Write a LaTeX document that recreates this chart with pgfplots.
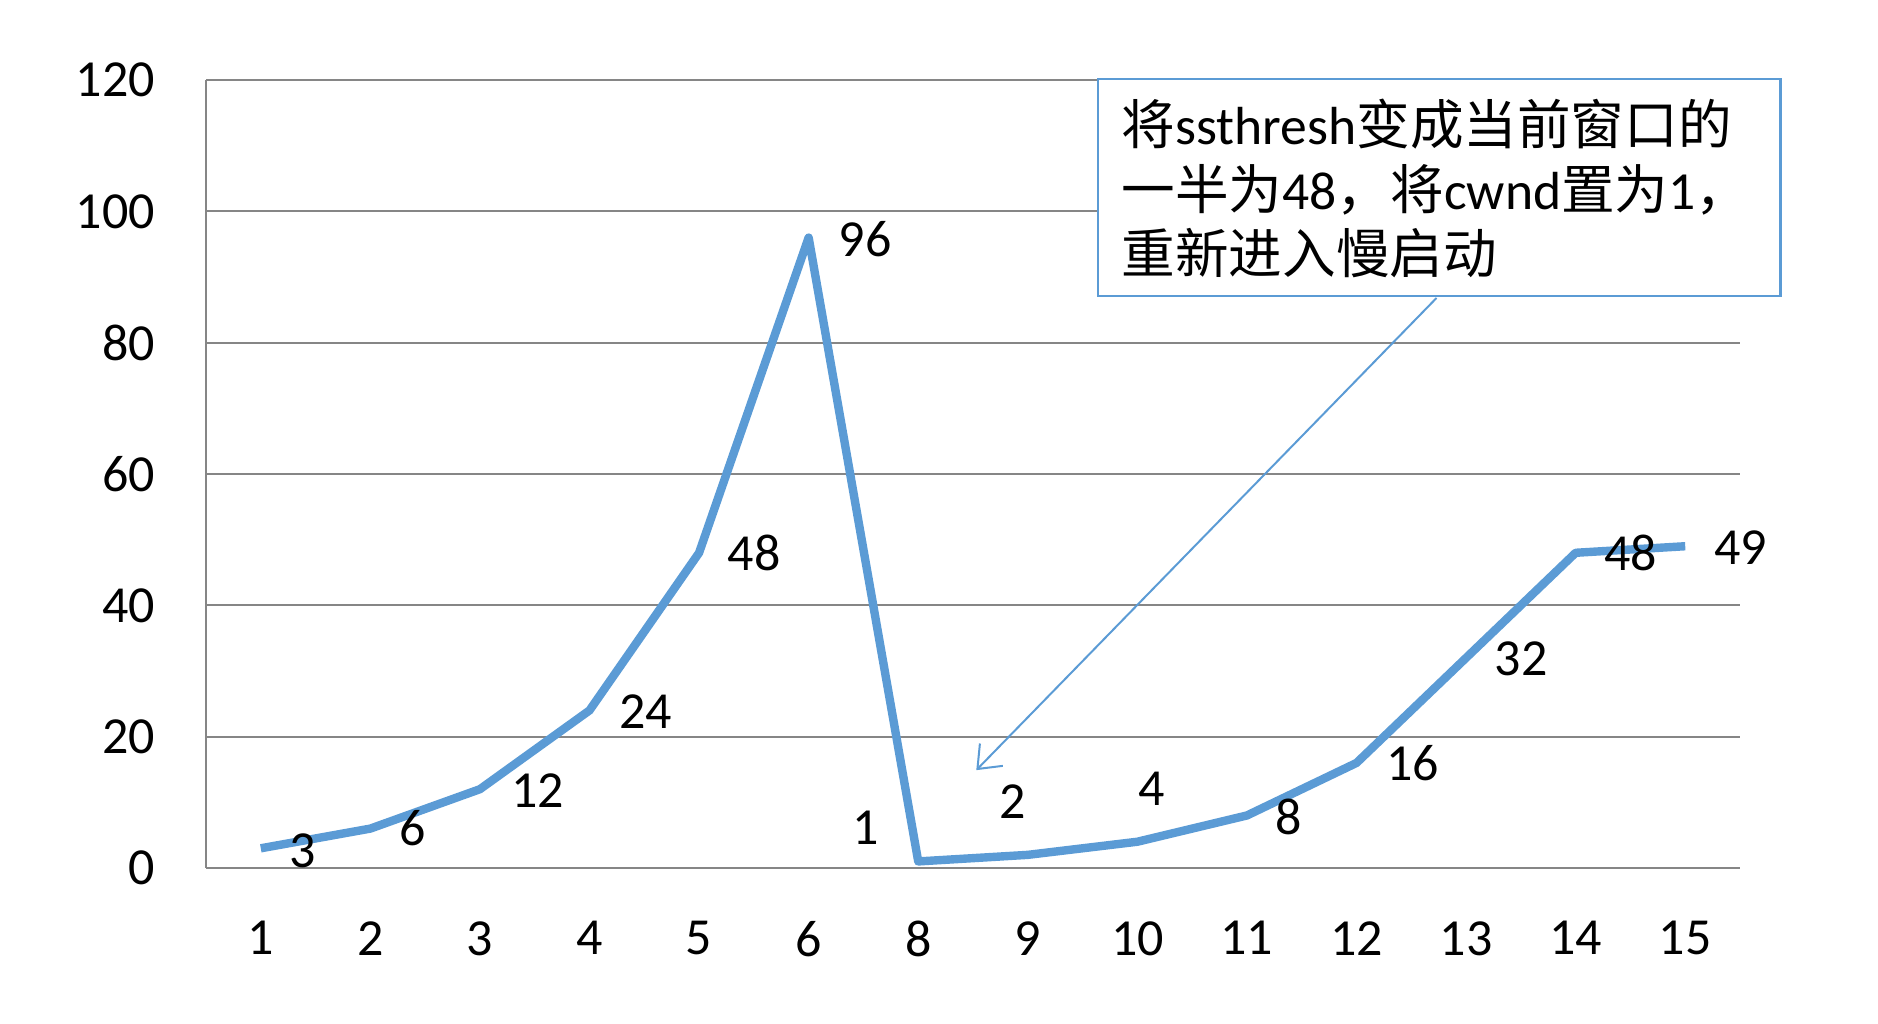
\documentclass[border=0pt]{standalone}
\usepackage{fontspec}
\setmainfont{Carlito}
\newfontfamily\cjk{Noto Sans CJK SC}
\usepackage{pgfplots}
\usepackage{pgfplotstable}
\pgfplotsset{compat=1.18}
\usetikzlibrary{arrows.meta}

\definecolor{linecol}{RGB}{91,155,213}
\definecolor{gridgray}{RGB}{134,134,134}
\newcommand\lbl{\fontsize{13pt}{16pt}\selectfont}
\newcommand\boxfont{\fontsize{13.4pt}{16pt}\selectfont}

% idx = position on the category axis, dx/dy = label offset in pt
\pgfplotstableread{
idx val dx dy
0 3 10.5 -0.6
1 6 10.5 0
2 12 14.4 -0.3
3 24 14.1 -0.3
4 48 13.8 0
5 96 14.1 -0.3
6 1 -13.2 8.4
7 2 -3.9 13.2
8 4 3.6 13.2
9 8 10.5 -0.3
10 16 14.1 0
11 32 13.8 -0.3
12 48 13.8 0
13 49 13.8 -0.3
}\cwnd

\begin{document}
\begin{tikzpicture}
\begin{axis}[
  scale only axis,
  width=383.5pt, height=197pt,
  xmin=-0.5, xmax=13.5,
  ymin=0, ymax=120,
  xtick={0,...,13},
  xticklabels={1,2,3,4,5,6,8,9,10,11,12,13,14,15},
  ytick={0,20,...,120},
  axis lines=left,
  axis line style={-, gridgray, line width=0.6pt},
  ymajorgrids,
  grid style={gridgray, line width=0.5pt},
  major tick length=0pt,
  /pgf/number format/assume math mode=true,
  tick label style={font=\lbl, black},
  yticklabel style={xshift=-9.2pt},
  xticklabel style={yshift=-9.8pt},
  clip=false,
]
\coordinate (bl) at (rel axis cs:0,0);
\coordinate (tr) at (rel axis cs:1,1);

\addplot[linecol, line width=2.1pt, line join=round, mark=none,
  nodes near coords,
  visualization depends on={\thisrow{dx}\as\dx},
  visualization depends on={\thisrow{dy}\as\dy},
  every node near coord/.append style={anchor=center, font=\lbl, black,
    xshift=\dx pt, yshift=\dy pt},
] table[x=idx, y=val] {\cwnd};

\draw[linecol, fill=white, line width=0.6pt] (axis cs:7.64,87.1) rectangle (axis cs:13.87,120.15);
\node[anchor=base west, inner sep=0pt, font=\boxfont] at (axis cs:7.85,110.1)
  {{\cjk 将}ssthresh{\cjk 变成当前窗口的}};
\node[anchor=base west, inner sep=0pt, font=\boxfont] at (axis cs:7.85,100.35)
  {{\cjk 一半为}48{\cjk ，将}cwnd{\cjk 置为}1{\cjk ，}};
\node[anchor=base west, inner sep=0pt, font=\boxfont] at (axis cs:7.85,90.6)
  {{\cjk 重新进入慢启动}};
\draw[linecol, line width=0.5pt, -{Straight Barb[length=5pt,width=8pt]}]
  (axis cs:10.73,86.8) -- (axis cs:6.53,14.9);
\end{axis}
\path ([shift={(-51.5pt,-39pt)}]bl) rectangle ([shift={(34.5pt,20pt)}]tr);
\end{tikzpicture}
\end{document}
